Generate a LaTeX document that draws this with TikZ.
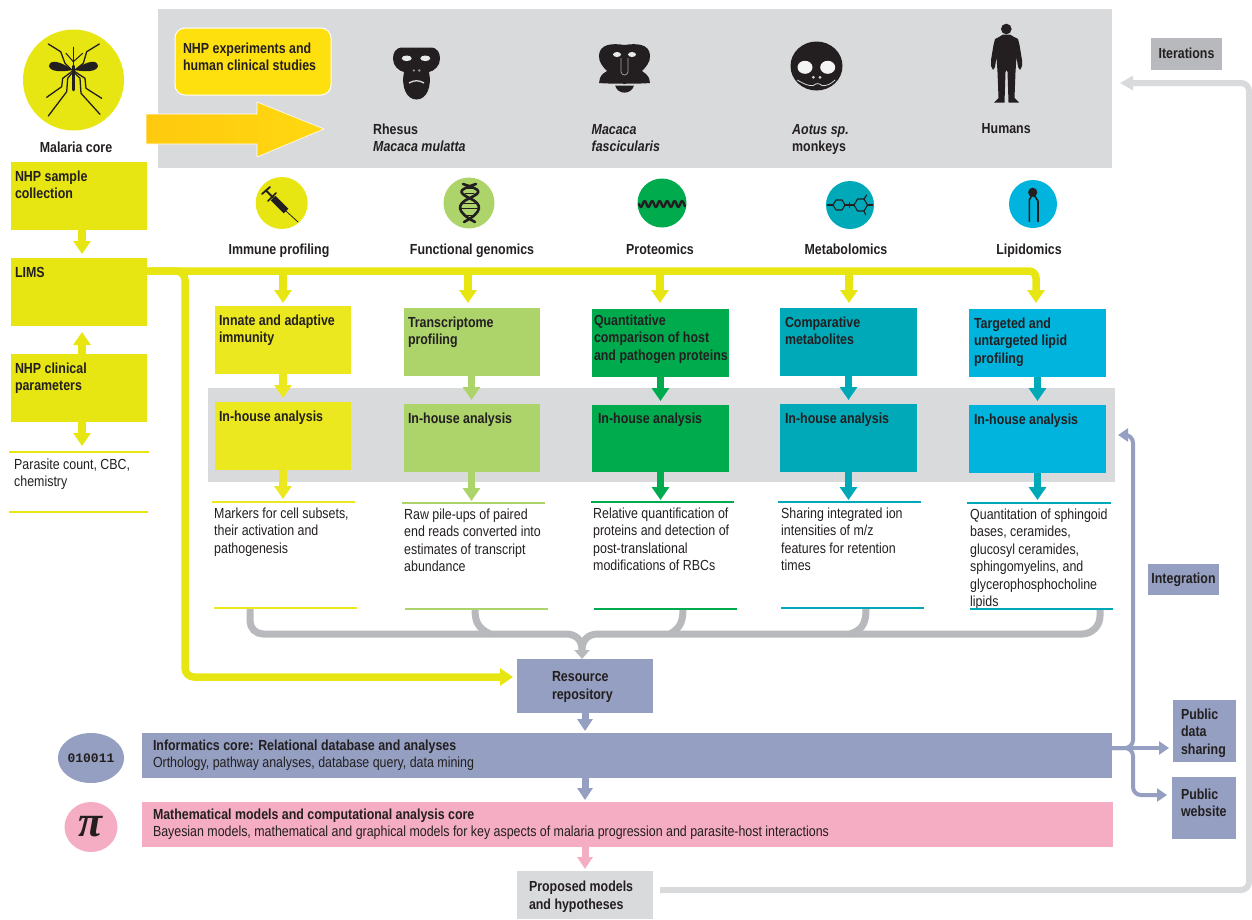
\documentclass[tikz,border=0pt]{standalone}
\usepackage{fontspec}
\setmainfont[FakeStretch=0.85]{Liberation Sans}
\setmonofont{Liberation Mono}
\newfontfamily\pifont{Liberation Serif}
\usetikzlibrary{arrows.meta,shapes.geometric}
\definecolor{limeyellow}{HTML}{E8E612}
\definecolor{boxyellow}{HTML}{ECE81F}
\definecolor{leafgreen}{HTML}{ADD46A}
\definecolor{protgreen}{HTML}{00AB4E}
\definecolor{metateal}{HTML}{00A9B8}
\definecolor{lipidblue}{HTML}{00B4DD}
\definecolor{panelgrey}{HTML}{D9DADC}
\definecolor{darkgrey}{HTML}{B8B9BD}
\definecolor{slateblue}{HTML}{949FC1}
\definecolor{softpink}{HTML}{F4ADC3}
\definecolor{signyellow}{HTML}{FFE00F}
\definecolor{bigleft}{HTML}{FFC90F}
\definecolor{bigright}{HTML}{FFD810}
\definecolor{inkblack}{HTML}{231F20}
\newcommand{\bodyfont}{\fontsize{14.6}{17.5}\selectfont}
\newcommand{\headfont}{\bodyfont\bfseries}
\tikzset{
  colbox/.style={anchor=north west,fill=#1,text=inkblack,font=\headfont,align=flush left,outer sep=0pt,inner ysep=0pt,inner xsep=4pt,text width=128pt,text height=19pt,text depth=49pt},
  headlabel/.style={anchor=base,text=inkblack,font=\headfont,inner sep=0pt},
  species/.style={anchor=north west,text=inkblack,font=\headfont,align=flush left,inner sep=0pt,text width=110pt,text height=12pt},
  restext/.style={anchor=north west,text=inkblack,font=\bodyfont,align=flush left,inner sep=0pt,text width=150pt,text height=12pt},
  iconround/.style={circle,fill=#1,inner sep=0pt},
  iconoval/.style={ellipse,fill=#1,inner sep=0pt},
  flow/.style={draw=#1,line width=7.5pt,-{Triangle[length=13pt,width=17pt]},shorten >=4pt},
  thinflow/.style={draw=#1,line width=4pt,-{Triangle[length=10pt,width=13pt]},shorten >=4pt},
  rule/.style={draw=#1,line width=2.5pt},
  greyline/.style={draw=darkgrey,line width=7pt},
  ink/.style={draw=inkblack,line width=#1,line cap=round,line join=round}
}
\begin{document}
\begin{tikzpicture}[x=1pt,y=-1pt]
\useasboundingbox (0,0) rectangle (1252,919);
\fill [panelgrey] (158,9) rectangle (1112,168);
\fill [panelgrey] (208,388) rectangle (1115,482);
\node [iconround=limeyellow,minimum size=101pt] (malariaicon) at (73.5,80) {};
\draw [ink=1.3pt] (48.3,44) -- (60.7,51.7) -- (65,63.3) -- (71.7,70);
\draw [ink=1.3pt] (99.3,44) -- (86.7,51.7) -- (83.3,63.3) -- (75,70);
\draw [ink=1pt] (66,53.3) -- (73.3,61.7) -- (82.7,53.3);
\draw [ink=1.3pt] (71.7,71.7) -- (62.7,78.3) -- (61.7,86.7) -- (46.7,97.3);
\draw [ink=1.3pt] (75,71.7) -- (85,78.3) -- (86,88.3) -- (101.7,98.3);
\draw [ink=1.3pt] (71.7,73.3) -- (67.7,78.3) -- (66.7,91.7) -- (48.3,116);
\draw [ink=1.3pt] (75,73.3) -- (80,78.3) -- (81,93.3) -- (100,114.3);
\draw [ink=1pt] (73.5,47) -- (73.5,66);
\draw [ink=2.5pt] (73.5,66) -- (73.5,90);
\fill [inkblack] (73,70) .. controls (62,72) and (50,72) .. (49,66) .. controls (50,59) and (60,61) .. (73,70) -- cycle;
\fill [inkblack] (74,70) .. controls (85,72) and (97,72) .. (98,66) .. controls (97,59) and (87,61) .. (74,70) -- cycle;
\node [headlabel] (malarialabel) at (76,152) {Malaria core};
\shadedraw [draw=white,line width=0.6pt,left color=bigleft,right color=bigright] (146,114) -- (257,114) -- (257,102) -- (324,129) -- (257,157) -- (257,144) -- (146,144) -- cycle;
\node [colbox=signyellow,draw=white,line width=1pt,rounded corners=10pt,inner xsep=8pt,text width=140pt,text height=25pt,text depth=42pt] (studies) at (175,28) {NHP experiments and\\human clinical studies};
\fill [inkblack] (416.5,47.5) -- (403,47.5) .. controls (395,47.5) and (393,53) .. (393,59) .. controls (393,66) and (399,71) .. (404,72) .. controls (401,86) and (406,99.5) .. (416.5,99.5) .. controls (427,99.5) and (432,86) .. (429,72) .. controls (434,71) and (440,66) .. (440,59) .. controls (440,53) and (438,47.5) .. (430,47.5) -- cycle;
\fill [panelgrey!60!white] (406.7,58.3) ellipse (5 and 2.8);
\fill [panelgrey!60!white] (425.3,58.3) ellipse (5 and 2.8);
\fill [panelgrey!60!inkblack] (413.8,70.5) circle (1.3);
\fill [panelgrey!60!inkblack] (419.2,70.5) circle (1.3);
\draw [panelgrey,line width=1.3pt] (409,83) .. controls (414,80) and (419,80) .. (424,83);
\fill [inkblack] (624.5,45) .. controls (612,43) and (600,44) .. (599,55) .. controls (598,62) and (604,68) .. (607,71) .. controls (605,73) and (602,73) .. (600,78) -- (599,83) .. controls (610,84) and (639,84) .. (650,83) -- (649,78) .. controls (646,73) and (644,73) .. (642,71) .. controls (645,68) and (651,62) .. (650,55) .. controls (649,44) and (637,43) .. (624.5,45) -- cycle;
\fill [inkblack] (615,85.5) .. controls (618,95) and (631,95) .. (634,85.5) -- cycle;
\fill [panelgrey!60!white] (617,54.5) ellipse (4 and 2.5);
\fill [panelgrey!60!white] (632,54.5) ellipse (4 and 2.5);
\draw [panelgrey!70!inkblack,line width=0.7pt] (621,58) -- (621,72) .. controls (622,76) and (627,76) .. (628,72) -- (628,58);
\fill [inkblack] (816.5,66) ellipse (26 and 24.5);
\fill [panelgrey!30!white] (805,67.3) ellipse (7.5 and 6.5);
\fill [panelgrey!30!white] (827.7,67.3) ellipse (7.5 and 6.5);
\fill [panelgrey] (813.3,77.3) circle (1.5);
\fill [panelgrey] (820,77.3) circle (1.5);
\draw [panelgrey,line width=0.8pt] (797.3,80) .. controls (804,84) and (808,86) .. (813.3,85.5) .. controls (816,83) and (819,83) .. (822,85.5) .. controls (827,86) and (831,84) .. (835,80);
\fill [inkblack] (1006.3,29) circle (5.3);
\fill [inkblack] (1003,34.5) -- (999,37) -- (995,39) -- (993.5,45) -- (991,60) -- (991,66) -- (993,70) -- (995,67) -- (996.5,57) -- (997.5,72) -- (998.5,98) -- (994,102.5) -- (1004.5,102.5) -- (1005.5,72) -- (1006.5,70) -- (1007.5,72) -- (1008.5,102.5) -- (1019,102.5) -- (1014.5,98) -- (1015.5,72) -- (1016.5,57) -- (1018,67) -- (1020,70) -- (1022,66) -- (1022,60) -- (1019.5,45) -- (1018,39) -- (1014,37) -- (1010,34.5) -- cycle;
\node [species] (rhesus) at (373,122) {Rhesus\\\textit{Macaca mulatta}};
\node [species] (fascicularis) at (591.5,122) {\textit{Macaca}\\\textit{fascicularis}};
\node [species] (aotus) at (792,122) {\textit{Aotus sp.}\\monkeys};
\node [species] (humans) at (981.5,121) {Humans};
\node [colbox=darkgrey,align=center,text width=71pt,inner xsep=0pt,text height=20pt,text depth=12pt] (iterations) at (1151,38) {Iterations};
\node [colbox=limeyellow] (samples) at (11,162) {NHP sample\\collection};
\node [colbox=limeyellow] (lims) at (11,258) {LIMS};
\node [colbox=limeyellow] (clinical) at (11,354) {NHP clinical\\parameters};
\draw [rule=limeyellow] (9,452) -- (149,452);
\node [restext] (parasite) at (14,457) {Parasite count, CBC,\\chemistry};
\draw [rule=limeyellow] (9,512) -- (148,512);
\coordinate (clinicaltip) at (82,446);
\coordinate (limsout) at (147,271);
\draw [flow=limeyellow] (samples.south -| 82,0) -- (lims.north -| 82,0);
\draw [flow=limeyellow,shorten >=6pt] (clinical.north -| 82,0) -- (lims.south -| 82,0);
\draw [flow=limeyellow,shorten >=0pt] (clinical.south -| 82,0) -- (clinicaltip);
\node [iconround=limeyellow,minimum size=52pt] (immuneicon) at (281.7,203) {};
\draw [ink=1.8pt] (262,194) -- (270,187);
\draw [ink=1.8pt] (266,190.5) -- (273,197.5);
\draw [ink=1.6pt] (268,201) -- (276,193);
\draw [draw=inkblack,line width=6.5pt] (273,198) -- (286,211);
\draw [ink=0.8pt] (286,211) -- (298,222);
\node [iconround=leafgreen,minimum size=51pt] (genomicsicon) at (469,203) {};
\draw [ink=2.6pt] (463,184) .. controls (482,190) and (482,192) .. (470,198) .. controls (456,204) and (456,212) .. (475,222);
\draw [ink=2.6pt] (476,184) .. controls (458,190) and (458,192) .. (469,198) .. controls (483,204) and (483,212) .. (464,222);
\draw [ink=1pt] (464,188.5) -- (475,188.5);
\draw [ink=1pt] (465,193) -- (474,193);
\draw [ink=1pt] (462,203) -- (477,203);
\draw [ink=1pt] (461,208) -- (478,208);
\draw [ink=1pt] (464,215) -- (475,215);
\node [iconround=protgreen,minimum size=49pt] (proteoicon) at (662,203) {};
\draw [ink=2.4pt] plot [domain=639:685,samples=90] (\x,{204+3*sin(48*(\x-639))});
\node [iconround=metateal,minimum size=48pt] (metaboicon) at (850,205) {};
\draw [ink=1.1pt] (833,205) -- (836,200) -- (842,200) -- (845,205) -- (842,210) -- (836,210) -- cycle;
\draw [ink=1.1pt] (854,205) -- (857.5,199) -- (864,199) -- (867.5,205) -- (864,211) -- (857.5,211) -- cycle;
\draw [ink=1.1pt] (827.3,205) -- (833,205);
\draw [ink=1.1pt] (845,205) -- (854,205);
\draw [ink=1.1pt] (849.3,202.5) -- (849.3,207.5);
\draw [ink=1.1pt] (867.5,205) -- (872.7,205);
\draw [ink=1.1pt] (864,199) -- (866.7,195);
\draw [ink=1.1pt] (864,211) -- (865.7,215);
\node [iconround=lipidblue,minimum size=48pt] (lipidicon) at (1033,204) {};
\fill [inkblack] (1032.7,192.3) circle (4.6);
\draw [ink=1.6pt] (1029.3,221.5) -- (1029.3,200) -- (1032,195);
\draw [ink=1.6pt] (1038,221.5) -- (1038,201) -- (1034,195);
\node [headlabel] (immunelabel) at (279,254) {Immune profiling};
\node [headlabel] (genomicslabel) at (472,254) {Functional genomics};
\node [headlabel] (proteolabel) at (660,254) {Proteomics};
\node [headlabel] (metabolabel) at (846,254) {Metabolomics};
\node [headlabel] (lipidlabel) at (1029,254) {Lipidomics};
\node [colbox=boxyellow] (innate) at (215,306) {Innate and adaptive\\immunity};
\node [colbox=leafgreen,inner xsep=4.5pt,text width=127pt] (transcript) at (403.5,308) {Transcriptome\\profiling};
\node [colbox=protgreen,inner xsep=2pt,text width=133pt,text height=16pt,text depth=52pt] (quant) at (592,309) {Quantitative\\comparison of host\\\mbox{and pathogen proteins}};
\node [colbox=metateal,inner xsep=5pt,text width=127pt] (compare) at (780,308) {Comparative\\metabolites};
\node [colbox=lipidblue,inner xsep=5pt,text width=127pt] (targeted) at (969,309) {Targeted and\\untargeted lipid\\profiling};
\node [colbox=boxyellow] (houseA) at (215,402) {In-house analysis};
\node [colbox=leafgreen,inner xsep=4.5pt,text width=127pt] (houseB) at (403.5,404) {In-house analysis};
\node [colbox=protgreen,inner xsep=6pt,text width=125pt,text height=18pt,text depth=49pt] (houseC) at (592,405) {In-house analysis};
\node [colbox=metateal,inner xsep=5pt,text width=127pt] (houseD) at (780,404) {In-house analysis};
\node [colbox=lipidblue,inner xsep=5pt,text width=127pt] (houseE) at (969,405) {In-house analysis};
\draw [flow=boxyellow] (innate.south) -- (houseA.north);
\draw [flow=leafgreen] (transcript.south) -- (houseB.north);
\draw [flow=protgreen] (quant.south) -- (houseC.north);
\draw [flow=metateal] (compare.south) -- (houseD.north);
\draw [flow=metateal] (targeted.south) -- (houseE.north);
\coordinate (tipA) at (283,499);
\coordinate (tipB) at (471.5,501);
\coordinate (tipC) at (660.5,500);
\coordinate (tipD) at (848.5,500);
\coordinate (tipE) at (1037.5,500);
\draw [flow=boxyellow,shorten >=0pt] (houseA.south) -- (tipA);
\draw [flow=leafgreen,shorten >=0pt] (houseB.south) -- (tipB);
\draw [flow=protgreen,shorten >=0pt] (houseC.south) -- (tipC);
\draw [flow=metateal,shorten >=0pt] (houseD.south) -- (tipD);
\draw [flow=metateal,shorten >=0pt] (houseE.south) -- (tipE);
\coordinate (branchA) at (283,271);
\coordinate (branchB) at (468,271);
\coordinate (branchC) at (660,271);
\coordinate (branchD) at (849,271);
\coordinate (branchE) at (1036,271);
\coordinate (branchF) at (185,271);
\draw [flow=limeyellow,shorten >=3pt] (branchA) -- (branchA |- innate.north);
\draw [flow=limeyellow,shorten >=5pt] (branchB) -- (branchB |- transcript.north);
\draw [flow=limeyellow,shorten >=6pt] (branchC) -- (branchC |- quant.north);
\draw [flow=limeyellow,shorten >=5pt] (branchD) -- (branchD |- compare.north);
\draw [flow=limeyellow,shorten >=6pt,rounded corners=7pt] (limsout) -| (branchE |- targeted.north);
\node [colbox=slateblue,inner xsep=35pt,text width=66pt,text height=22.7pt,text depth=31.3pt] (resource) at (517,659) {Resource\\repository};
\coordinate (resourcein) at (517,677);
\draw [flow=limeyellow,rounded corners=9pt] (limsout) -| (branchF |- resourcein) -- (resourcein);
\draw [rule=boxyellow] (212,502) -- (355,502);
\draw [rule=leafgreen] (402,503) -- (545,503);
\draw [rule=protgreen] (591,502) -- (734,502);
\draw [rule=metateal] (778,502) -- (921,502);
\draw [rule=metateal] (967,503) -- (1111,503);
\node [restext] (resA) at (214,506) {Markers for cell subsets,\\their activation and\\pathogenesis};
\node [restext] (resB) at (404,507) {Raw pile-ups of paired\\end reads converted into\\estimates of transcript\\abundance};
\node [restext] (resC) at (593,506) {Relative quantification of\\proteins and detection of\\post-translational\\modifications of RBCs};
\node [restext] (resD) at (781,506) {Sharing integrated ion\\intensities of m/z\\features for retention\\times};
\node [restext] (resE) at (970,507) {Quantitation of sphingoid\\bases, ceramides,\\glucosyl ceramides,\\sphingomyelins, and\\glycerophosphocholine\\lipids};
\coordinate (baseA) at (250,609);
\coordinate (baseB) at (475,609);
\coordinate (baseC) at (683,609);
\coordinate (baseD) at (866,609);
\coordinate (baseE) at (1100,609);
\coordinate (forkL) at (566,634);
\coordinate (forkR) at (598,634);
\coordinate (stem) at (582,650);
\coordinate (resourcetop) at (582,659);
\draw [greyline,rounded corners=13pt] (baseA) |- (forkL);
\draw [greyline,rounded corners=18pt] (baseE) |- (forkR);
\draw [greyline] (baseB) .. controls (475,622) and (478,628) .. (490,634);
\draw [greyline] (baseC) .. controls (683,622) and (680,628) .. (670,634);
\draw [greyline] (baseD) .. controls (866,622) and (863,630) .. (850,634);
\draw [greyline] (forkL) .. controls (576,634) and (582,640) .. (stem);
\draw [greyline] (forkR) .. controls (588,634) and (582,640) .. (stem);
\draw [draw=darkgrey,line width=5pt,-{Triangle[length=9pt,width=15pt]}] (stem) -- (resourcetop);
\draw [rule=boxyellow] (214,608) -- (357,608);
\draw [rule=leafgreen] (405,609) -- (548,609);
\draw [rule=protgreen] (594,609) -- (737,609);
\draw [rule=metateal] (781,608) -- (924,608);
\draw [rule=metateal] (970,609) -- (1113,609);
\node [colbox=slateblue,inner xsep=11pt,text width=948pt,text height=17pt,text depth=28pt] (informatics) at (142,733) {Informatics core: Relational database and analyses\\\mdseries Orthology, pathway analyses, database query, data mining};
\node [colbox=softpink,inner xsep=11pt,text width=949pt,text height=17pt,text depth=28pt] (models) at (142,802) {Mathematical models and computational analysis core\\\mdseries Bayesian models, mathematical and graphical models for key aspects of malaria progression and parasite-host interactions};
\node [iconoval=slateblue,minimum width=53pt,minimum height=50pt,font=\ttfamily\bfseries\fontsize{13}{13}\selectfont,text=inkblack] (binaryicon) at (91,758) {010011};
\node [iconoval=softpink,minimum width=53pt,minimum height=50pt,font=\pifont\bfseries\itshape\fontsize{44}{44}\selectfont,text=inkblack] (piicon) at (91,827) {π};
\node [colbox=panelgrey,inner xsep=12pt,text width=112pt,text height=20.7pt,text depth=27.3pt] (proposed) at (517,871) {Proposed models\\and hypotheses};
\coordinate (repoout) at (585,713);
\draw [flow=slateblue,line width=7pt,-{Triangle[length=12pt,width=15pt]},shorten >=2pt] (repoout) -- (repoout |- informatics.north);
\draw [flow=slateblue,line width=7pt,-{Triangle[length=12pt,width=15pt]},shorten >=2pt] (repoout |- informatics.south) -- (repoout |- models.north);
\draw [flow=softpink,line width=7pt,-{Triangle[length=12pt,width=15pt]},shorten >=2pt] (repoout |- models.south) -- (repoout |- proposed.north);
\node [colbox=slateblue,align=center,text width=71pt,inner xsep=0pt,text height=19pt,text depth=12pt] (integration) at (1148,564) {Integration};
\node [colbox=slateblue,inner xsep=8pt,text width=47pt,text height=19pt,text depth=43pt] (datashare) at (1173,700) {Public\\data\\sharing};
\node [colbox=slateblue,inner xsep=9pt,text width=46pt,text height=22pt,text depth=40pt] (website) at (1172,777) {Public\\website};
\coordinate (infoout) at (1112,748);
\coordinate (bandin) at (1118,435);
\coordinate (webin) at (1172,795);
\draw [thinflow=slateblue] (infoout) -- (datashare.west |- infoout);
\draw [thinflow=slateblue,shorten >=0pt,rounded corners=8pt] (infoout) -| (1133,435) -- (bandin);
\draw [thinflow=slateblue,shorten >=5pt,rounded corners=8pt] (infoout) -| (1133,795) -- (webin);
\coordinate (feedstart) at (660,890);
\coordinate (feedend) at (1120,83);
\draw [draw=panelgrey,line width=6pt,-{Triangle[length=13pt,width=14pt]},rounded corners=8pt] (feedstart) -| (1249,83) -- (feedend);
\end{tikzpicture}
\end{document}
